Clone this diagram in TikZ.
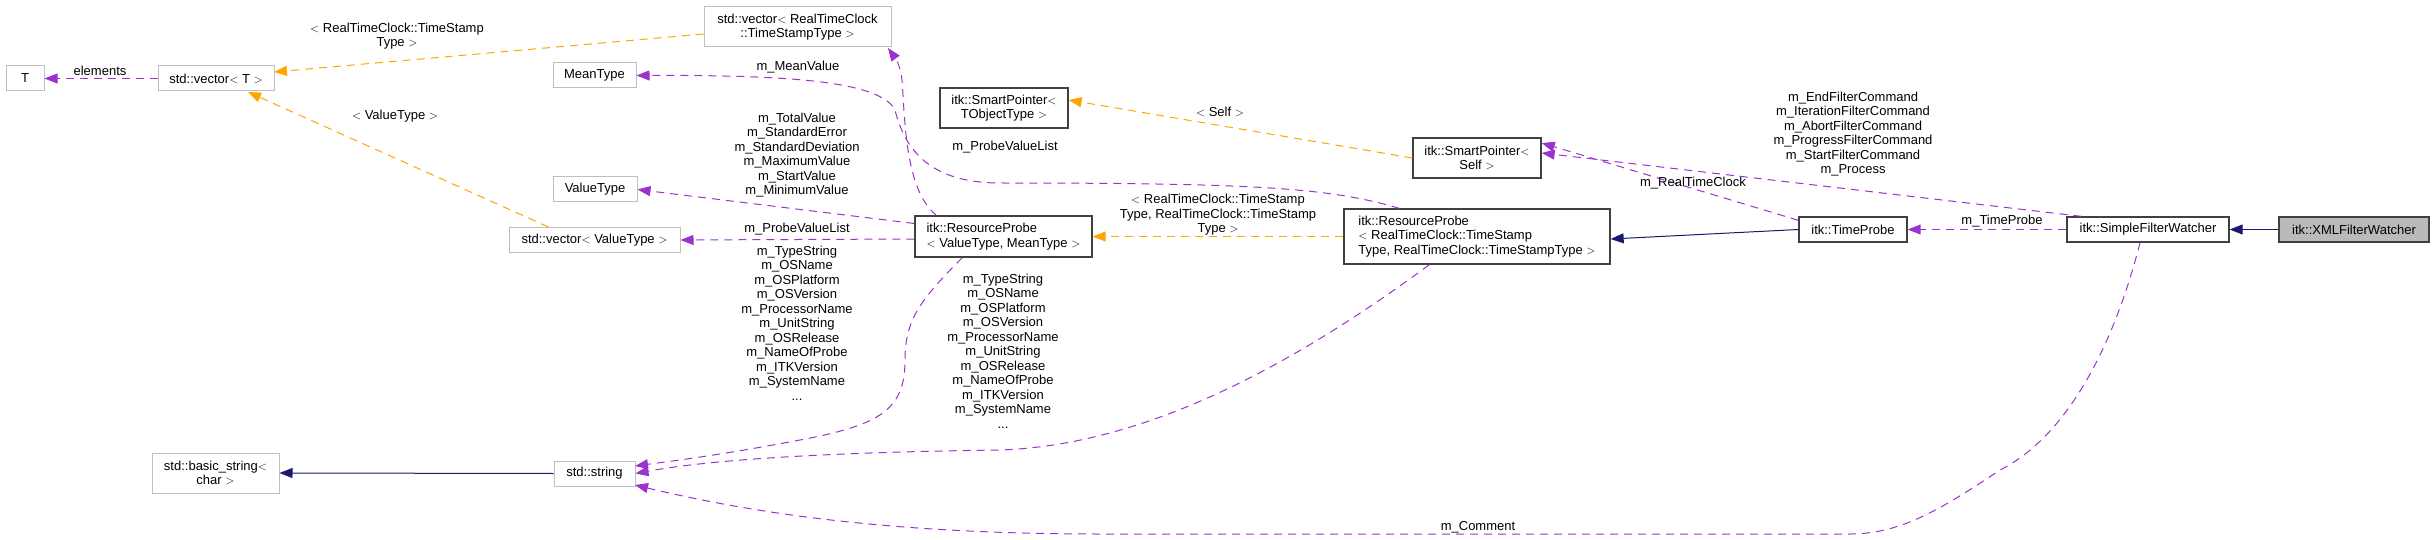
\documentclass[tikz,border=0pt]{standalone}
\usepackage{fontspec}
\setmainfont{Liberation Sans}
\usetikzlibrary{arrows.meta}
\begin{document}
\begin{tikzpicture}[x=1pt,y=-1pt,
  font=\fontsize{13}{14.5}\selectfont,
  box/.style={draw=black!75,line width=1.3pt,fill=white,inner sep=0pt,align=left},
  ext/.style={box,draw=black!25,line width=1pt},
  lbl/.style={align=center,inner sep=0pt},
  use/.style={draw={rgb,255:red,154;green,50;blue,205},dash pattern=on 8pt off 6pt,line width=1pt,-{Triangle[length=13pt,width=10pt]}},
  tmpl/.style={use,draw={rgb,255:red,255;green,165;blue,0}},
  inh/.style={draw={rgb,255:red,25;green,25;blue,112},line width=1pt,-{Triangle[length=13pt,width=10pt]}}]
\useasboundingbox (0,0) rectangle (2435,540);
\node[ext,minimum width=38,minimum height=25] (T) at (25,78.5) {T};
\node[ext,minimum width=116,minimum height=25] (vT) at (216,78.5) {std::vector$<$ T $>$};
\node[ext,align=center,minimum width=187,minimum height=40] (vRTC) at (797.5,27) {std::vector$<$ RealTimeClock\\::TimeStampType $>$};
\node[ext,minimum width=83,minimum height=25] (MT) at (594.5,75.5) {MeanType};
\node[ext,minimum width=84,minimum height=25] (VT) at (595,189.5) {ValueType};
\node[ext,minimum width=171,minimum height=25] (vVT) at (594.5,240) {std::vector$<$ ValueType $>$};
\node[box,minimum width=177,minimum height=41] (RP) at (1003.5,236.5) {itk::ResourceProbe\\$<$ ValueType, MeanType $>$};
\node[box,align=center,minimum width=128,minimum height=40] (SPT) at (1004,108) {itk::SmartPointer$<$\\TObjectType $>$};
\node[box,align=center,minimum width=128,minimum height=40] (SPS) at (1477,158) {itk::SmartPointer$<$\\Self $>$};
\node[box,minimum width=266,minimum height=55] (RPR) at (1477,236.5) {itk::ResourceProbe\\$<$ RealTimeClock::TimeStamp\\Type, RealTimeClock::TimeStampType $>$};
\node[box,minimum width=108,minimum height=25] (TP) at (1853,229.5) {itk::TimeProbe};
\node[box,minimum width=162,minimum height=25] (SFW) at (2148,229.5) {itk::SimpleFilterWatcher};
\node[box,fill=black!27,minimum width=150,minimum height=25] (XML) at (2354,229.5) {itk::XMLFilterWatcher};
\node[ext,align=center,minimum width=127,minimum height=40] (BS) at (215.5,473) {std::basic\_string$<$\\char $>$};
\node[ext,minimum width=81,minimum height=25] (S) at (594.5,473.5) {std::string};

\draw[use] (vT) -- (T);
\node[lbl] (lel) at (100,71) {elements};
\draw[tmpl] (vRTC.west) ++(0,7) coordinate (a1) -- (274,72);
\node[lbl] (lRTC1) at (397,36) {$<$ RealTimeClock::TimeStamp\\Type $>$};
\draw[tmpl] (vVT.north west) ++(40,0) coordinate (a2) -- (248,92);
\node[lbl] (lVT) at (395,116) {$<$ ValueType $>$};

\draw[use] (RPR.north west) ++(56,0) coordinate (b) .. controls (1330,188) and (1260,183) .. (1000,183) .. controls (930,183) and (905,150) .. (895,110) .. controls (880,80) and (780,75) .. (MT.east);
\node[lbl] (lMV) at (798,67) {m\_MeanValue};
\draw[use] (RP.north west) ++(22,0) coordinate (c) .. controls (905,190) and (905,120) .. (902,80) .. controls (900,62) and (893,55) .. (888,48);
\node[lbl] (lPVL) at (1005,147) {m\_ProbeValueList};
\draw[use] (RP.west) ++(0,-13) coordinate (d) -- (VT.east);
\node[lbl] (lVal) at (797,155) {m\_TotalValue\\m\_StandardError\\m\_StandardDeviation\\m\_MaximumValue\\m\_StartValue\\m\_MinimumValue};
\draw[use] (RP.west) ++(0,2.5) coordinate (e) -- (vVT.east);
\node[lbl] (lPVL2) at (797,229) {m\_ProbeValueList};
\draw[use] (RP.south west) ++(48,0) coordinate (f) .. controls (920,300) and (905,320) .. (905,360) .. controls (905,410) and (880,425) .. (800,440) .. controls (720,455) and (680,460) .. (635,466);
\node[lbl] (lS1) at (797,323) {m\_TypeString\\m\_OSName\\m\_OSPlatform\\m\_OSVersion\\m\_ProcessorName\\m\_UnitString\\m\_OSRelease\\m\_NameOfProbe\\m\_ITKVersion\\m\_SystemName\\...};
\draw[use] (RPR.south west) ++(86,0) coordinate (g) .. controls (1300,360) and (1150,445) .. (1000,450) .. controls (850,452) and (720,458) .. (S.east);
\node[lbl] (lS2) at (1003,351) {m\_TypeString\\m\_OSName\\m\_OSPlatform\\m\_OSVersion\\m\_ProcessorName\\m\_UnitString\\m\_OSRelease\\m\_NameOfProbe\\m\_ITKVersion\\m\_SystemName\\...};
\draw[tmpl] (RPR.west) -- (RP.east);
\node[lbl] (lRPR) at (1218,215) {$<$ RealTimeClock::TimeStamp\\Type, RealTimeClock::TimeStamp\\Type $>$};
\draw[inh] (TP.west) -- ([yshift=-2.5pt]RPR.east);
\draw[tmpl] (SPS.west) -- ([yshift=8pt]SPT.east);
\node[lbl] (lSelf) at (1220,112) {$<$ Self $>$};
\draw[use] (TP.north west) ++(0,4) coordinate (h) -- ([yshift=15pt]SPS.east);
\node[lbl] (lRTC) at (1693,183) {m\_RealTimeClock};
\draw[use] (SFW.north west) ++(15,0) coordinate (k) -- ([yshift=5pt]SPS.east);
\node[lbl] (lCmd) at (1853,134) {m\_EndFilterCommand\\m\_IterationFilterCommand\\m\_AbortFilterCommand\\m\_ProgressFilterCommand\\m\_StartFilterCommand\\m\_Process};
\draw[use] (SFW.west) -- (TP.east);
\node[lbl] (lTP) at (2002,221) {m\_TimeProbe};
\draw[inh] (XML.west) -- (SFW.east);
\draw[use] (SFW.south) ++(-8,0) coordinate (m) .. controls (2110,360) and (2060,440) .. (2000,470) .. controls (1940,510) and (1900,534) .. (1850,534) -- (1100,534) .. controls (900,534) and (760,515) .. (635,485);
\node[lbl] (lC) at (1478,527) {m\_Comment};
\draw[inh] (S.west) -- (BS.east);
\end{tikzpicture}
\end{document}
